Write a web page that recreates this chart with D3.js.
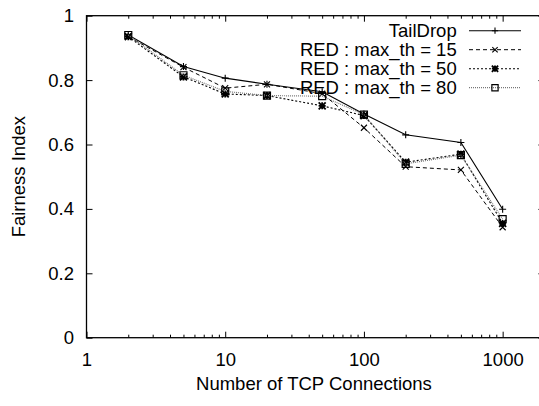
<!DOCTYPE html>
<html>
<head>
<meta charset="utf-8">
<script src="https://cdn.jsdelivr.net/npm/d3@7"></script>
<style>
  html, body { margin: 0; padding: 0; background: #fff; }
  svg { display: block; }
  text { font-family: "Liberation Sans", Arial, Helvetica, sans-serif; fill: #000; }
</style>
</head>
<body>
<svg id="chart" width="539" height="406"></svg>
<script>
// ---- data ----
const connections = [2, 5, 10, 20, 50, 100, 200, 500, 1000];
const tailDrop = [0.940, 0.842, 0.806, 0.787, 0.764, 0.695, 0.630, 0.606, 0.399];
const red15    = [0.935, 0.840, 0.775, 0.787, 0.758, 0.652, 0.531, 0.521, 0.343];
const red50    = [0.935, 0.810, 0.757, 0.752, 0.720, 0.690, 0.545, 0.570, 0.355];
const red80    = [0.940, 0.815, 0.765, 0.752, 0.750, 0.693, 0.540, 0.567, 0.368];
const seriesNames = ["TailDrop", "RED : max_th = 15", "RED : max_th = 50", "RED : max_th = 80"];
const xMajorTicks = [1, 10, 100, 1000];
const xTickLabels = ["1", "10", "100", "1000"];
const yTicks = [0, 0.2, 0.4, 0.6, 0.8, 1];
const yTickLabels = ["0", "0.2", "0.4", "0.6", "0.8", "1"];
const xTitle = "Number of TCP Connections";
const yTitle = "Fairness Index";

// ---- layout ----
const L = 86.5, R = 544.4, T = 15.7, B = 337.7;
const FS = 18.5;
const svg = d3.select("#chart");

const x = d3.scaleLog().domain([1, 2000]).range([L, R]);
const y = d3.scaleLinear().domain([0, 1]).range([B, T]);

// minor ticks
const xMinor = [];
for (let d = 1; d < 2000; d *= 10) for (let k = 2; k <= 9; k++) if (d * k < 2000) xMinor.push(d * k);

function styleAxis(g) {
  g.select(".domain").remove();
  g.selectAll(".tick line").attr("stroke", "#000").attr("stroke-width", 1);
  g.selectAll(".tick text").style("font-size", FS + "px").attr("fill", "#000")
    .style("font-family", '"Liberation Sans", Arial, sans-serif');
}

// bottom axis (major)
svg.append("g").attr("transform", `translate(0,${B})`)
  .call(d3.axisBottom(x).tickValues(xMajorTicks).tickFormat((d, i) => xTickLabels[i]).tickSize(-6).tickPadding(15))
  .call(styleAxis);
svg.append("g").attr("transform", `translate(0,${B})`)
  .call(d3.axisBottom(x).tickValues(xMinor).tickFormat("").tickSize(-3))
  .call(styleAxis);
// top axis mirror
svg.append("g").attr("transform", `translate(0,${T})`)
  .call(d3.axisTop(x).tickValues(xMajorTicks).tickFormat("").tickSize(-6))
  .call(styleAxis);
svg.append("g").attr("transform", `translate(0,${T})`)
  .call(d3.axisTop(x).tickValues(xMinor).tickFormat("").tickSize(-3))
  .call(styleAxis);
// left axis
svg.append("g").attr("transform", `translate(${L},0)`)
  .call(d3.axisLeft(y).tickValues(yTicks).tickFormat((d, i) => yTickLabels[i]).tickSize(-6).tickPadding(12.5))
  .call(styleAxis);
// right axis mirror
svg.append("g").attr("transform", `translate(${R},0)`)
  .call(d3.axisRight(y).tickValues(yTicks).tickFormat("").tickSize(-6))
  .call(styleAxis);

// border
svg.append("rect").attr("x", L).attr("y", T).attr("width", R - L).attr("height", B - T)
  .attr("fill", "none").attr("stroke", "#000").attr("stroke-width", 1.3);

// axis titles
svg.append("text").attr("x", (L + R) / 2 - 1.5).attr("y", 390).attr("text-anchor", "middle")
  .style("font-size", FS + "px").text(xTitle);
svg.append("text").attr("transform", `translate(25,${(T + B) / 2}) rotate(-90)`).attr("text-anchor", "middle")
  .style("font-size", FS + "px").text(yTitle);

// ---- marker shapes ----
const plusSym = { draw(c, s) { const r = Math.sqrt(s) / 2; c.moveTo(-r, 0); c.lineTo(r, 0); c.moveTo(0, -r); c.lineTo(0, r); } };
const timesSym = { draw(c, s) { const r = Math.sqrt(s) / 2; c.moveTo(-r, -r); c.lineTo(r, r); c.moveTo(-r, r); c.lineTo(r, -r); } };
const starSym = { draw(c, s) { const r = Math.sqrt(s) / 2; c.moveTo(-r, 0); c.lineTo(r, 0); c.moveTo(0, -r); c.lineTo(0, r);
  c.moveTo(-r, -r); c.lineTo(r, r); c.moveTo(-r, r); c.lineTo(r, -r); } };
const squareSym = { draw(c, s) { const r = Math.sqrt(s) / 2; c.moveTo(-r, -r); c.lineTo(r, -r); c.lineTo(r, r); c.lineTo(-r, r); c.closePath(); } };

const series = [
  { name: seriesNames[0], values: tailDrop, dash: null, color: "#000", width: 1.1, sym: plusSym, size: 49, mw: 1.1 },
  { name: seriesNames[1], values: red15, dash: "4,3", color: "#000", width: 1.0, sym: timesSym, size: 36, mw: 1.1 },
  { name: seriesNames[2], values: red50, dash: "2,2", color: "#000", width: 1.1, sym: starSym, size: 49, mw: 1.8 },
  { name: seriesNames[3], values: red80, dash: "1,1", color: "#777", width: 1.2, sym: squareSym, size: 49, mw: 1.2 }
];

const line = d3.line().x(d => x(d[0])).y(d => y(d[1]));

series.forEach(s => {
  const pts = connections.map((c, i) => [c, s.values[i]]);
  svg.append("path").datum(pts).attr("d", line).attr("fill", "none")
    .attr("stroke", s.color).attr("stroke-width", s.width)
    .attr("stroke-dasharray", s.dash);
  svg.append("g").selectAll("path").data(pts).join("path")
    .attr("transform", d => `translate(${x(d[0])},${y(d[1])})`)
    .attr("d", d3.symbol().type(s.sym).size(s.size))
    .attr("fill", "none").attr("stroke", s.sym === squareSym ? "#000" : s.color).attr("stroke-width", s.mw);
});

// ---- legend ----
const legTextX = 456.7, legY0 = 30.7, legDy = 19, lx0 = 469, lx1 = 521;
series.forEach((s, i) => {
  const cy = legY0 + i * legDy;
  svg.append("text").attr("x", legTextX).attr("y", cy).attr("dy", "0.35em")
    .attr("text-anchor", "end").style("font-size", FS + "px").text(s.name);
  svg.append("line").attr("x1", lx0).attr("x2", lx1).attr("y1", cy).attr("y2", cy)
    .attr("stroke", s.color).attr("stroke-width", s.width).attr("stroke-dasharray", s.dash);
  svg.append("path").attr("transform", `translate(${(lx0 + lx1) / 2},${cy})`)
    .attr("d", d3.symbol().type(s.sym).size(s.size * 0.8))
    .attr("fill", "none").attr("stroke", s.sym === squareSym ? "#000" : s.color).attr("stroke-width", s.mw);
});
</script>
</body>
</html>
